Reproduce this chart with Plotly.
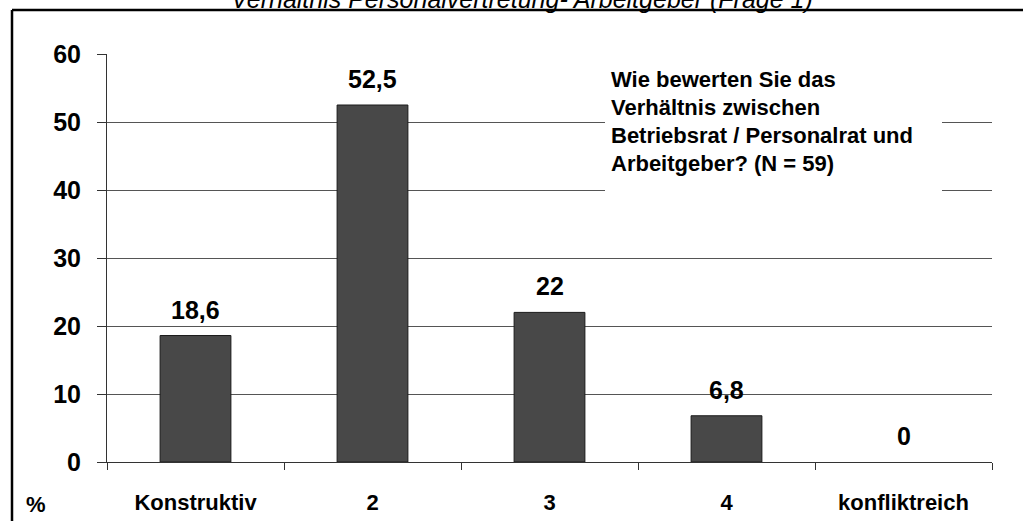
import plotly.graph_objects as go

categories = ["Konstruktiv", "2", "3", "4", "konfliktreich"]
values = [18.6, 52.5, 22, 6.8, 0]
y_ticks = [0, 10, 20, 30, 40, 50, 60]
title_text = "Verhältnis Personalvertretung- Arbeitgeber (Frage 1)"
box_lines = ["Wie bewerten Sie das", "Verhältnis zwischen",
             "Betriebsrat / Personalrat und", "Arbeitgeber? (N = 59)"]
unit_label = "%"

W, H = 1023, 521
L, R, T, B = 107, 31, 54, 59
pw, ph = W - L - R, H - T - B

def px_x(p):
    return (p - L) / pw

def px_y(p):
    return 1 - (p - T) / ph

FONT = "Liberation Sans, Arial, sans-serif"

fig = go.Figure()
fig.add_trace(go.Bar(
    x=categories, y=values, width=0.4,
    marker=dict(color="#484848",
                line=dict(color="#1a1a1a", width=[1 if v > 0 else 0 for v in values])),
    hoverinfo="skip",
))

for i, v in enumerate(values):
    fig.add_annotation(
        x=i, y=v, xref="x", yref="y", text=f"<b>{v:g}</b>".replace(".", ","),
        showarrow=False, yanchor="bottom", yshift=10,
        font=dict(family=FONT, size=25, color="black"),
    )

fig.update_layout(
    width=W, height=H,
    margin=dict(l=L, r=R, t=T, b=B, autoexpand=False),
    paper_bgcolor="white", plot_bgcolor="white",
    showlegend=False,
    bargap=0.6,
    font=dict(family=FONT, color="black"),
    xaxis=dict(
        type="category", showgrid=False, showline=True, linecolor="#333", linewidth=1,
        ticks="outside", tickson="boundaries", ticklen=7, tickcolor="#333",
        tickfont=dict(family=FONT, size=22, color="black"),
        tickvals=categories, ticktext=[f"<b>{c}</b>" for c in categories],
        ticklabelstandoff=21, automargin=False,
    ),
    yaxis=dict(
        range=[0, 60], tickvals=y_ticks, ticktext=[f"<b>{t}</b>" for t in y_ticks],
        showgrid=True, gridcolor="#555", gridwidth=1,
        showline=True, linecolor="#333", linewidth=1,
        ticks="outside", ticklen=9, tickcolor="#333",
        tickfont=dict(family=FONT, size=25, color="black"),
        ticklabelstandoff=11, zeroline=False, automargin=False,
    ),
)

# white box behind the question text
fig.add_shape(type="rect", xref="paper", yref="paper",
              x0=px_x(605), x1=px_x(942), y0=px_y(202), y1=px_y(62),
              fillcolor="white", line=dict(width=0), layer="above")
for i, line in enumerate(box_lines):
    fig.add_annotation(
        xref="paper", yref="paper", x=px_x(609), y=px_y(79 + i * 28.3),
        text=f"<b>{line}</b>", showarrow=False, xanchor="left", yanchor="middle",
        font=dict(family=FONT, size=22, color="black"),
    )

# title (partially cut off at top)
fig.add_annotation(
    xref="paper", yref="paper", x=px_x(522), y=px_y(15), text=f"<i>{title_text}</i>",
    showarrow=False, xanchor="center", yanchor="bottom",
    font=dict(family=FONT, size=25, color="black"),
)

# unit label
fig.add_annotation(
    xref="paper", yref="paper", x=px_x(36), y=px_y(504), text=f"<b>{unit_label}</b>",
    showarrow=False, xanchor="center", yanchor="middle",
    font=dict(family=FONT, size=22, color="black"),
)

# outer frame
fig.add_shape(type="line", xref="paper", yref="paper",
              x0=px_x(12), x1=px_x(12), y0=px_y(530), y1=px_y(10),
              line=dict(color="black", width=2.5))
fig.add_shape(type="line", xref="paper", yref="paper",
              x0=px_x(12), x1=px_x(1030), y0=px_y(10), y1=px_y(10),
              line=dict(color="black", width=2.5))

fig.write_html("out.html", config={"displayModeBar": False},
               post_script="document.body.style.margin='0';")
